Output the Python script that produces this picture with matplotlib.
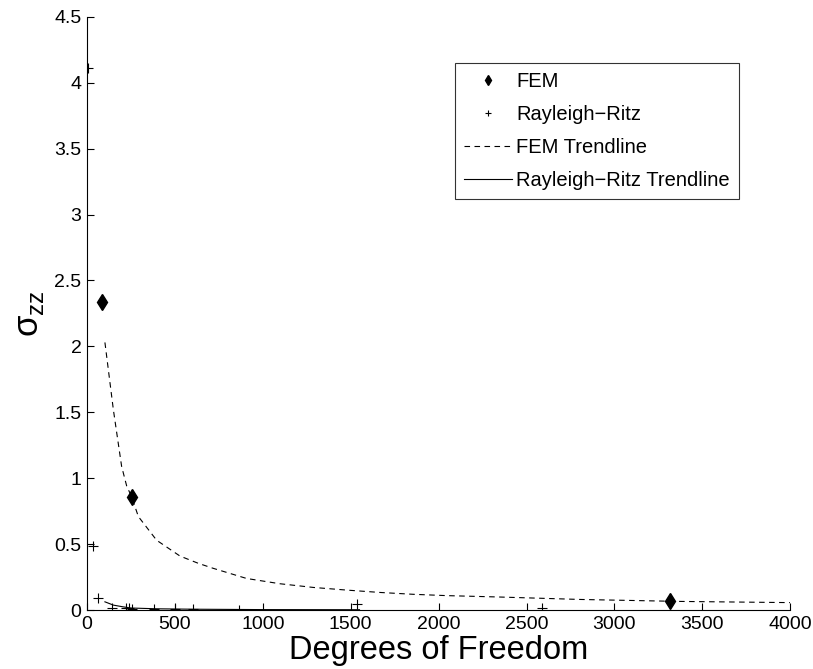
import numpy as np
import matplotlib
matplotlib.use("Agg")
import matplotlib.pyplot as plt
from matplotlib.ticker import FuncFormatter

plt.rcParams['font.family'] = ['Liberation Sans', 'DejaVu Sans']

# FEM results
fem_dof = [83, 254, 3316]
fem_szz = [2.34, 0.86, 0.068]

# Rayleigh-Ritz results
rr_dof = [8, 32, 64, 144, 220, 239, 254, 381, 500, 601, 865, 1534, 2586]
rr_szz = [4.11, 0.49, 0.089, 0.018, 0.015, 0.013, 0.012, 0.008, 0.009, 0.007, 0.004, 0.045, 0.013]

# trendlines
fem_tr_x = [102, 150, 197, 226, 254, 292, 396, 529, 633, 718, 908, 1098, 1288,
            1477, 1667, 1856, 2046, 2331, 2804, 3373, 4000]
fem_tr_y = [2.03, 1.52, 1.09, 0.94, 0.86, 0.71, 0.53, 0.41, 0.355, 0.317, 0.24, 0.2, 0.172,
            0.152, 0.134, 0.12, 0.11, 0.10, 0.081, 0.066, 0.057]
rr_tr_x = [102, 150, 205, 250, 400, 600, 1000, 1550]
rr_tr_y = [0.063, 0.038, 0.025, 0.016, 0.010, 0.007, 0.004, 0.003]

fig = plt.figure(figsize=(8.13, 6.69), dpi=100)
ax = fig.add_axes([0.107, 0.088, 0.865, 0.887])

ax.plot(fem_dof, fem_szz, 'kd', markersize=8, label='FEM')
ax.plot(rr_dof, rr_szz, 'k+', markersize=7, markeredgewidth=0.8, label='Rayleigh\u2212Ritz')
ax.plot(fem_tr_x, fem_tr_y, 'k--', linewidth=0.8, dashes=(5, 4), label='FEM Trendline')
ax.plot(rr_tr_x, rr_tr_y, 'k-', linewidth=0.8, label='Rayleigh\u2212Ritz Trendline')

ax.set_xlim(0, 4000)
ax.set_ylim(0, 4.5)
ax.set_xticks(np.arange(0, 4001, 500))
ax.set_yticks(np.arange(0, 4.51, 0.5))
ax.yaxis.set_major_formatter(FuncFormatter(lambda v, p: '%g' % v))
ax.tick_params(direction='in', length=5, labelsize=14, width=0.8, pad=4)
ax.spines['top'].set_visible(False)
ax.spines['right'].set_visible(False)

ax.set_xlabel('Degrees of Freedom', fontsize=23.5, labelpad=2)
ax.set_ylabel('\u03c3$_{\\mathregular{zz}}$', fontsize=25, labelpad=6)

leg = ax.legend(loc='upper left', bbox_to_anchor=(0.523, 0.922), fontsize=14.5,
                frameon=True, fancybox=False, edgecolor='k', handlelength=2.4,
                handletextpad=0.2, borderpad=0.45, labelspacing=0.7, borderaxespad=0,
                markerscale=0.7)
leg.get_frame().set_linewidth(0.8)

fig.savefig('out.png', dpi=100)
